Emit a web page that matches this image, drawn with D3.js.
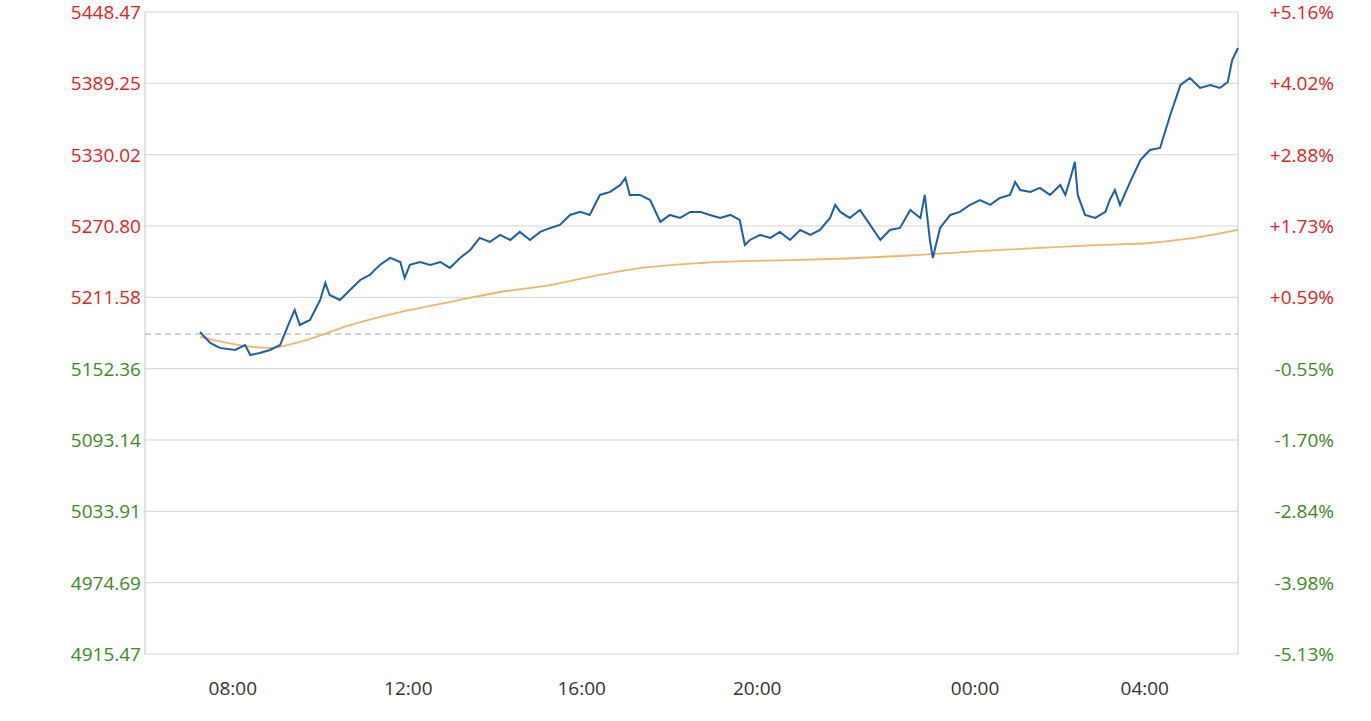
<!DOCTYPE html>
<html><head><meta charset="utf-8">
<script src="https://cdn.jsdelivr.net/npm/d3@7"></script>
<style>body{margin:0;background:#fff}text{font-family:"Open Sans","DejaVu Sans",sans-serif}</style>
</head><body><svg id="c" width="1371" height="721"></svg>
<script>
const baseValue = 5181.1;
const yTickValues = [5448.47,5389.25,5330.02,5270.80,5211.58,5152.36,5093.14,5033.91,4974.69,4915.47];
const yTickPct = ["+5.16%","+4.02%","+2.88%","+1.73%","+0.59%","-0.55%","-1.70%","-2.84%","-3.98%","-5.13%"];
const xTickIndex = [45,286,524,765,1064,1297];
const xTickLabels = ["08:00","12:00","16:00","20:00","00:00","04:00"];
const priceIndex = [0,14,27,48,62,69,82,96,110,124,130,137,151,165,172,178,192,206,220,233,247,261,275,281,288,302,316,330,343,357,371,384,398,412,426,439,453,467,481,494,508,522,535,549,563,577,584,590,604,618,632,645,659,673,687,700,714,728,741,748,755,769,783,796,810,824,838,851,865,872,879,892,906,920,934,947,961,975,989,995,1002,1006,1016,1030,1043,1057,1071,1085,1098,1112,1119,1126,1140,1153,1167,1181,1188,1195,1201,1205,1215,1229,1243,1249,1256,1263,1277,1291,1304,1318,1332,1346,1359,1373,1387,1400,1411,1417,1425];
const priceValues = [5182.8,5173.7,5169.6,5167.9,5172.0,5163.7,5165.4,5167.9,5172.0,5192.8,5201.1,5188.6,5192.8,5209.4,5223.5,5213.5,5209.4,5217.7,5226.0,5230.2,5238.5,5244.3,5240.9,5227.7,5238.5,5240.9,5238.5,5240.9,5236.0,5244.3,5250.9,5260.9,5257.6,5263.4,5259.2,5265.9,5259.2,5265.9,5269.2,5271.7,5280.0,5282.5,5280.0,5296.6,5299.1,5304.9,5310.7,5296.6,5296.6,5292.4,5274.2,5280.0,5277.5,5282.5,5282.5,5280.0,5277.5,5280.0,5275.8,5255.1,5259.2,5263.4,5260.9,5265.9,5259.2,5267.5,5263.4,5267.5,5277.5,5288.3,5282.5,5277.5,5284.1,5271.7,5259.2,5267.5,5269.2,5284.1,5277.5,5296.6,5259.2,5244.3,5269.2,5280.0,5282.5,5288.3,5292.4,5288.3,5294.1,5296.6,5307.4,5300.7,5299.1,5302.4,5296.6,5304.9,5296.6,5310.7,5324.0,5296.6,5280.0,5277.5,5282.5,5292.4,5300.7,5288.3,5307.4,5325.6,5333.9,5335.6,5363.0,5387.9,5393.7,5385.4,5387.9,5385.4,5390.4,5408.6,5418.6];
const avgIndex = [0,96,137,206,275,343,412,481,549,618,687,755,824,961,1098,1236,1304,1373,1425];
const avgValues = [5178.7,5169.6,5174.5,5188.6,5199.4,5207.7,5216.0,5221.8,5230.2,5236.8,5240.1,5241.8,5242.6,5245.9,5250.9,5255.1,5256.7,5261.7,5267.5];

const svg = d3.select("#c");
const L=145,R=1238,T=12,B=654;
const x = d3.scaleLinear().domain([0,1425]).range([200,R]);
const y = d3.scaleLinear().domain([4915.47,5448.47]).range([B,T]);
const red="#e8201c", green="#3c8a1e";
yTickValues.forEach((v,i)=>{
  svg.append("line").attr("x1",L).attr("x2",R).attr("y1",y(v)).attr("y2",y(v)).attr("stroke","#d4d4d4").attr("stroke-width",1);
  const c = v>baseValue?red:green;
  svg.append("text").attr("x",L-4).attr("y",y(v)+7).attr("text-anchor","end").attr("font-size",19).attr("fill",c).text(v.toFixed(2));
  svg.append("text").attr("x",1334).attr("y",y(v)+7).attr("text-anchor","end").attr("font-size",19).attr("fill",c).text(yTickPct[i]);
});
svg.append("line").attr("x1",L).attr("x2",L).attr("y1",T).attr("y2",B).attr("stroke","#c8c8c8");
svg.append("line").attr("x1",R).attr("x2",R).attr("y1",T).attr("y2",B).attr("stroke","#c8c8c8");
svg.append("line").attr("x1",L).attr("x2",R).attr("y1",y(baseValue)).attr("y2",y(baseValue)).attr("stroke","#aaa").attr("stroke-dasharray","6,4");
xTickIndex.forEach((t,i)=>{
  svg.append("text").attr("x",x(t)).attr("y",695).attr("text-anchor","middle").attr("font-size",19).attr("fill","#333").text(xTickLabels[i]);
});
const line=d3.line().x(d=>x(d[0])).y(d=>y(d[1]));
svg.append("path").datum(avgIndex.map((d,i)=>[d,avgValues[i]])).attr("d",line.curve(d3.curveMonotoneX)).attr("fill","none").attr("stroke","#f2b56e").attr("stroke-width",1.8);
svg.append("path").datum(priceIndex.map((d,i)=>[d,priceValues[i]])).attr("d",d3.line().x(d=>x(d[0])).y(d=>y(d[1]))).attr("fill","none").attr("stroke","#1d5ea8").attr("stroke-width",2);
</script></body></html>
